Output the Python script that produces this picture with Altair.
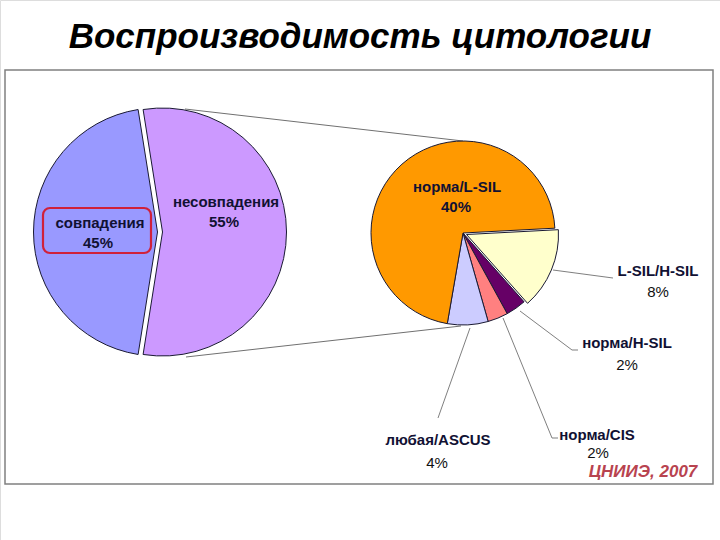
import math
import altair as alt
import pandas as pd

# ---- data ----
left_labels = ["несовпадения", "совпадения"]
left_values = [55, 45]
left_colors = ["#CC99FF", "#9999FF"]

right_labels = ["L-SIL/H-SIL", "норма/H-SIL", "норма/CIS", "любая/ASCUS", "норма/L-SIL"]
right_values = [8, 2, 2, 4, 40]
right_colors = ["#FFFFCC", "#660066", "#FF8080", "#CCCCFF", "#FF9900"]

title_text = "Воспроизводимость цитологии"
source_text = "ЦНИИЭ, 2007"

left_df = pd.DataFrame({"label": left_labels, "value": left_values, "order": range(len(left_labels))})
right_df = pd.DataFrame({"label": right_labels, "value": right_values, "order": range(len(right_labels))})

XS = alt.Scale(domain=[0, 720], range=[0, 720], nice=False, zero=False)
YS = alt.Scale(domain=[0, 540], range=[0, 540], nice=False, zero=False)


def pie_layer(df, labels, colors, start_deg, cx, cy, r, keep):
    a0 = math.radians(start_deg)
    total = float(sum(df["value"]))
    return (
        alt.Chart(df)
        .transform_window(cum="sum(value)", sort=[alt.SortField("order")], frame=[None, 0])
        .transform_calculate(start="datum.cum - datum.value")
        .transform_filter(alt.FieldOneOfPredicate(field="label", oneOf=keep))
        .mark_arc(radius=r, stroke="#1a1a33", strokeWidth=1)
        .encode(
            theta=alt.Theta("start:Q", stack=False,
                            scale=alt.Scale(domain=[0, total], range=[a0, a0 + 2 * math.pi])),
            theta2="cum:Q",
            color=alt.Color("label:N", scale=alt.Scale(domain=labels, range=colors), legend=None),
            x=alt.value(cx),
            y=alt.value(cy),
        )
    )


# left pie (exploded halves)
lp_a = pie_layer(left_df, left_labels, left_colors, -9, 162.5, 232, 124, ["несовпадения"])
lp_b = pie_layer(left_df, left_labels, left_colors, -9, 157.5, 232, 124, ["совпадения"])
# right pie
rp_a = pie_layer(right_df, right_labels, right_colors, 87, 463, 233, 92,
                 ["норма/H-SIL", "норма/CIS", "любая/ASCUS", "норма/L-SIL"])
rp_b = pie_layer(right_df, right_labels, right_colors, 87, 466.5, 234.5, 92, ["L-SIL/H-SIL"])

# frame
frame = alt.Chart(pd.DataFrame({"x": [5], "x2": [713], "y": [70], "y2": [484]})).mark_rect(
    fill="white", stroke="#808080", strokeWidth=1.5
).encode(x=alt.X("x:Q", scale=XS, axis=None), x2="x2:Q",
         y=alt.Y("y:Q", scale=YS, axis=None), y2="y2:Q")

# connector lines between pies
conn_df = pd.DataFrame({"x": [185, 186], "y": [109, 357], "x2": [463, 461], "y2": [141, 326]})
conn_lines = alt.Chart(conn_df).mark_rule(color="#707070", strokeWidth=1).encode(
    x=alt.X("x:Q", scale=XS, axis=None), y=alt.Y("y:Q", scale=YS, axis=None), x2="x2:Q", y2="y2:Q"
)

# leader lines
lead_df = pd.DataFrame({
    "id": [1, 1, 2, 2, 2, 3, 3, 3, 4, 4],
    "seq": [0, 1, 0, 1, 2, 0, 1, 2, 0, 1],
    "x": [553, 613, 520, 572, 578, 503, 552, 558, 470, 438],
    "y": [270, 278, 311, 350, 350, 318, 438, 438, 328, 418],
})
leaders = alt.Chart(lead_df).mark_line(color="#707070", strokeWidth=0.9).encode(
    x=alt.X("x:Q", scale=XS, axis=None), y=alt.Y("y:Q", scale=YS, axis=None),
    detail="id:N", order="seq:Q"
)

# red rounded box
red_box = alt.Chart(pd.DataFrame({"x": [43], "x2": [151], "y": [208], "y2": [253]})).mark_rect(
    fill=None, stroke="#D0213A", strokeWidth=2.2, cornerRadius=7
).encode(x=alt.X("x:Q", scale=XS, axis=None), x2="x2:Q",
         y=alt.Y("y:Q", scale=YS, axis=None), y2="y2:Q")

# labels
bold_df = pd.DataFrame({
    "t": ["совпадения", "45%", "несовпадения", "55%", "норма/L-SIL", "40%",
          "L-SIL/H-SIL", "норма/H-SIL", "норма/CIS", "любая/ASCUS"],
    "x": [100, 98, 226, 224, 457, 456, 658, 627, 597, 438],
    "y": [223, 243, 202, 222, 187, 207, 271, 343, 435, 440],
})
norm_df = pd.DataFrame({
    "t": ["8%", "2%", "2%", "4%"],
    "x": [658, 627, 598, 437],
    "y": [292, 365, 453, 463],
})
bold_txt = alt.Chart(bold_df).mark_text(
    font="Liberation Sans", fontSize=15, fontWeight="bold", color="#111133", baseline="middle"
).encode(x=alt.X("x:Q", scale=XS, axis=None), y=alt.Y("y:Q", scale=YS, axis=None), text="t:N")
norm_txt = alt.Chart(norm_df).mark_text(
    font="Liberation Sans", fontSize=15, color="#111111", baseline="middle"
).encode(x=alt.X("x:Q", scale=XS, axis=None), y=alt.Y("y:Q", scale=YS, axis=None), text="t:N")

title = alt.Chart(pd.DataFrame({"t": [title_text], "x": [360], "y": [37]})).mark_text(
    font="Liberation Sans", fontSize=35, fontWeight="bold", fontStyle="italic", color="black",
    baseline="middle"
).encode(x=alt.X("x:Q", scale=XS, axis=None), y=alt.Y("y:Q", scale=YS, axis=None), text="t:N")

source = alt.Chart(pd.DataFrame({"t": [source_text], "x": [643], "y": [472]})).mark_text(
    font="Liberation Sans", fontSize=17, fontWeight="bold", fontStyle="italic", color="#B8434F",
    baseline="middle"
).encode(x=alt.X("x:Q", scale=XS, axis=None), y=alt.Y("y:Q", scale=YS, axis=None), text="t:N")

chart = alt.layer(
    frame, conn_lines, leaders, lp_a, lp_b, rp_a, rp_b, red_box, bold_txt, norm_txt, title, source
).resolve_scale(
    theta="independent", color="independent"
).properties(
    width=720, height=540, padding=0, autosize=alt.AutoSizeParams(type="none")
).configure_view(stroke=None).configure(background="white")

chart.save("out.html", embed_options={"renderer": "svg", "actions": False})
